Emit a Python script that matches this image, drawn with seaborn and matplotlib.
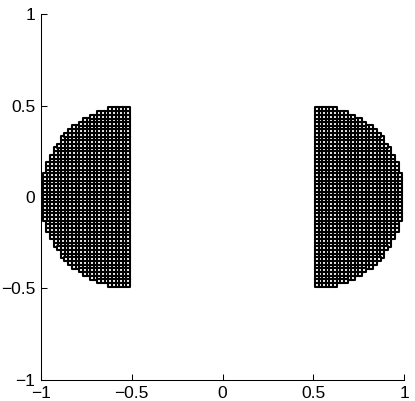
import numpy as np
import pandas as pd
import matplotlib
matplotlib.use("Agg")
import matplotlib.pyplot as plt
import seaborn as sns

# grid step and row heights (upper half, y = 0.00 ... 0.48)
step = 0.02
row_y = [0.00, 0.02, 0.04, 0.06, 0.08, 0.10, 0.12, 0.14, 0.16, 0.18, 0.20, 0.22,
         0.24, 0.26, 0.28, 0.30, 0.32, 0.34, 0.36, 0.38, 0.40, 0.42, 0.44, 0.46, 0.48]
# number of squares in each row, counted from the inner edge outwards
row_count = [24, 24, 24, 24, 24, 24, 24, 23, 23, 23, 22, 22,
             21, 21, 20, 19, 19, 18, 17, 16, 14, 13, 11, 9, 6]
inner_x = 0.52  # inner edge of each half-disc

tick_vals = [-1, -0.5, 0, 0.5, 1]
tick_labels = ["\u22121", "\u22120.5", "0", "0.5", "1"]

# build points of both half-discs
xs, ys = [], []
for y, n in zip(row_y, row_count):
    for yy in ([y] if y == 0 else [y, -y]):
        for j in range(n):
            x = inner_x + j * step
            xs += [x, -x]
            ys += [yy, yy]
df = pd.DataFrame({"x": xs, "y": ys})

sns.set_style("white")
plt.rcParams["font.family"] = ["Liberation Sans", "DejaVu Sans"]

fig = plt.figure(figsize=(4.15, 4.01), dpi=100)
ax = fig.add_axes([0.0988, 0.0524, 0.8747, 0.9126])

sns.scatterplot(data=df, x="x", y="y", marker="s", s=4.9, color="white",
                edgecolor="black", linewidth=1.5, ax=ax, legend=False)

ax.set_xlim(-1, 1)
ax.set_ylim(-1, 1)
ax.set_xticks(tick_vals)
ax.set_xticklabels(tick_labels)
ax.set_yticks(tick_vals)
ax.set_yticklabels(tick_labels)
ax.set_xlabel("")
ax.set_ylabel("")
for s in ["top", "right"]:
    ax.spines[s].set_visible(False)
for s in ["left", "bottom"]:
    ax.spines[s].set_color("black")
    ax.spines[s].set_linewidth(0.75)
ax.tick_params(direction="in", length=4, width=0.75, colors="black",
               labelsize=12.5, left=True, bottom=True, pad=4)

fig.savefig("out.png", dpi=100)
